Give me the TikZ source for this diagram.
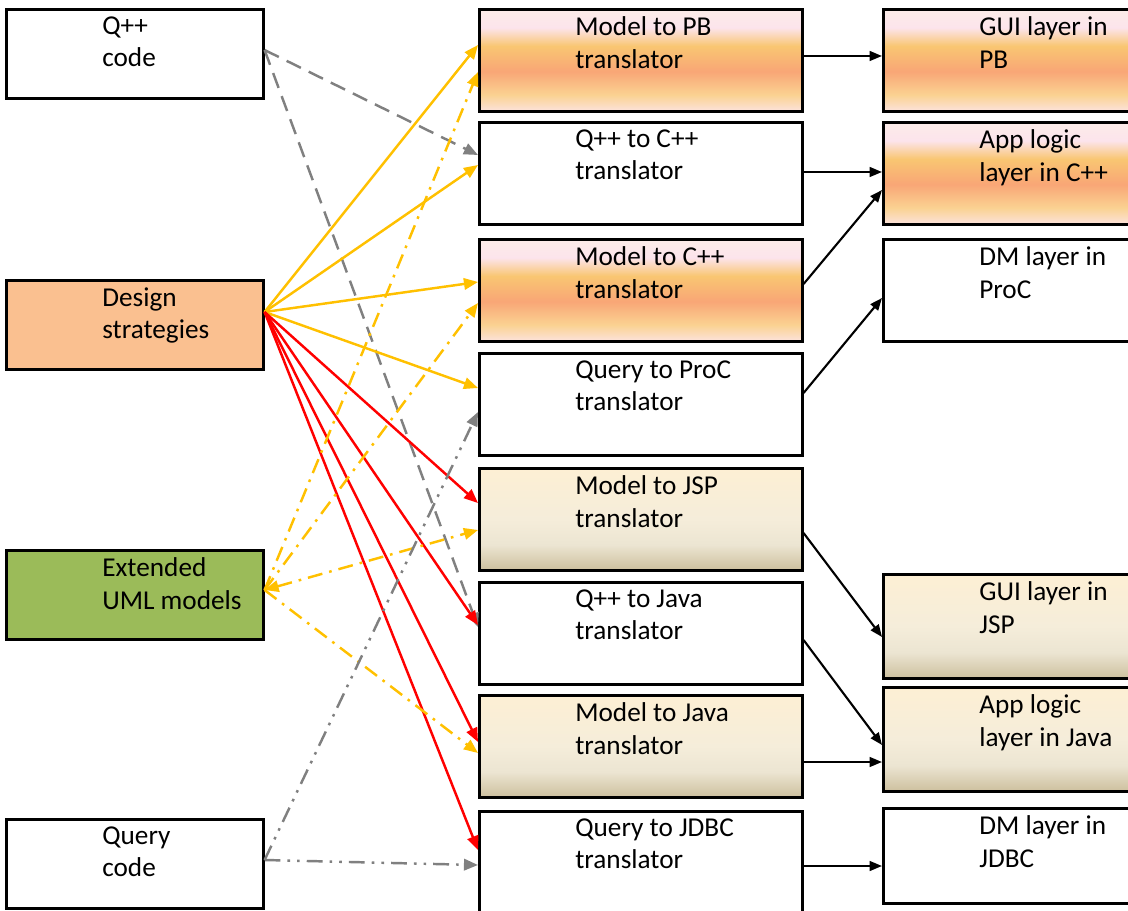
\documentclass[tikz,border=0pt]{standalone}
\usepackage{fontspec}
\setmainfont{Carlito}
\usepackage{tikz}
\usetikzlibrary{arrows.meta}

\definecolor{dsorange}{RGB}{250,192,144}
\definecolor{umlgreen}{RGB}{155,187,89}
\definecolor{linkyellow}{RGB}{255,192,0}
\definecolor{linkred}{RGB}{255,0,0}
\definecolor{linkgray}{RGB}{128,128,128}
\definecolor{suntop}{RGB}{252,236,232}
\definecolor{sunpink}{RGB}{252,228,236}
\definecolor{sungold}{RGB}{249,198,114}
\definecolor{sunsalmon}{RGB}{249,166,118}
\definecolor{sungoldlow}{RGB}{250,210,146}
\definecolor{sunbot}{RGB}{252,226,220}
\definecolor{partop}{RGB}{253,239,212}
\definecolor{parmid}{RGB}{245,237,218}
\definecolor{parlow}{RGB}{236,229,210}
\definecolor{parbot}{RGB}{205,192,158}

\pgfdeclareverticalshading{sunset}{100bp}{color(0bp)=(sunbot); color(25bp)=(sunbot); color(33bp)=(sungoldlow); color(44.5bp)=(sunsalmon); color(57bp)=(sungold); color(66bp)=(sunpink); color(75bp)=(suntop); color(100bp)=(suntop)}
\pgfdeclareverticalshading{parchment}{100bp}{color(0bp)=(parbot); color(25bp)=(parbot); color(37.5bp)=(parlow); color(50bp)=(parmid); color(75bp)=(partop); color(100bp)=(partop)}

\tikzstyle{block} = [draw=black, line width=1.5pt, inner sep=0pt, anchor=north west]
\tikzstyle{srcbox} = [block, minimum width=5.14cm, minimum height=1.78cm]
\tikzstyle{trbox} = [block, minimum width=6.46cm, minimum height=2.04cm]
\tikzstyle{layerbox} = [block, minimum width=5.2cm, minimum height=2.04cm]
\tikzstyle{warm} = [shade, shading=sunset]
\tikzstyle{sand} = [shade, shading=parchment]
\tikzstyle{txt} = [anchor=north west, align=left, inner sep=0pt, xshift=1.94cm, yshift=-0.16cm, font=\fontsize{15.5}{18.7}\selectfont]
\tikzstyle{link} = [line width=1.4pt, ->, >={Triangle[length=8pt,width=6.5pt]}]
\tikzstyle{yline} = [link, draw=linkyellow]
\tikzstyle{rline} = [link, draw=linkred]
\tikzstyle{ydashdot} = [yline, dash pattern=on 8.5pt off 4pt on 1.5pt off 4pt]
\tikzstyle{gdash} = [link, draw=linkgray, dash pattern=on 9pt off 5pt]
\tikzstyle{gdashdotdot} = [link, draw=linkgray, dash pattern=on 9pt off 4pt on 1.5pt off 4pt on 1.5pt off 4pt]
\tikzstyle{blkarrow} = [line width=1.2pt, ->, >={Triangle[length=7pt,width=5.5pt]}]

\begin{document}
\begin{tikzpicture}[x=0.02cm, y=-0.02cm]
    \useasboundingbox (0,0) rectangle (1128,911);

    % sources
    \node (qcode) [srcbox, label={[txt]north west:{Q++\\code}}] at (5,8) {};
    \node (ds) [srcbox, fill=dsorange, label={[txt]north west:{Design\\strategies}}] at (5,279) {};
    \node (uml) [srcbox, fill=umlgreen, label={[txt]north west:{Extended\\UML models}}] at (5,549) {};
    \node (query) [srcbox, label={[txt]north west:{Query\\code}}] at (5,818) {};

    % translators
    \node (mpb) [trbox, warm, label={[txt]north west:{Model to PB\\translator}}] at (478,8) {};
    \node (qcpp) [trbox, label={[txt]north west:{Q++ to C++\\translator}}] at (478,121) {};
    \node (mcpp) [trbox, warm, label={[txt]north west:{Model to C++\\translator}}] at (478,238) {};
    \node (qproc) [trbox, label={[txt]north west:{Query to ProC\\translator}}] at (478,352) {};
    \node (mjsp) [trbox, sand, label={[txt]north west:{Model to JSP\\translator}}] at (478,467) {};
    \node (qjava) [trbox, label={[txt]north west:{Q++ to Java\\translator}}] at (478,581) {};
    \node (mjava) [trbox, sand, label={[txt]north west:{Model to Java\\translator}}] at (478,694) {};
    \node (qjdbc) [trbox, label={[txt]north west:{Query to JDBC\\translator}}] at (478,810) {};

    % layers
    \node (guipb) [layerbox, warm, label={[txt]north west:{GUI layer in\\PB}}] at (882,8) {};
    \node (appcpp) [layerbox, warm, label={[txt]north west:{App logic\\layer in C++}}] at (882,121) {};
    \node (dmproc) [layerbox, label={[txt]north west:{DM layer in\\ProC}}] at (882,238) {};
    \node (guijsp) [layerbox, sand, minimum height=2.08cm, label={[txt]north west:{GUI layer in\\JSP}}] at (882,573) {};
    \node (appjava) [layerbox, sand, minimum height=2.08cm, label={[txt]north west:{App logic\\layer in Java}}] at (882,686) {};
    \node (dmjdbc) [layerbox, minimum height=1.9cm, label={[txt]north west:{DM layer in\\JDBC}}] at (882,807) {};

    \draw [gdash] (qcode.east |- 0,50) -- (qcpp.west |- 0,155);
    \draw [gdash] (qcode.east |- 0,50) -- (qjava.west |- 0,627);

    \draw [yline] (ds.east |- 0,312) -- (mpb.west |- 0,45);
    \draw [yline] (ds.east |- 0,312) -- (qcpp.west |- 0,165);
    \draw [yline] (ds.east |- 0,312) -- (mcpp.west |- 0,282);
    \draw [yline] (ds.east |- 0,312) -- (qproc.west |- 0,388);
    \draw [rline] (ds.east |- 0,312) -- (mjsp.west |- 0,503);
    \draw [rline] (ds.east |- 0,312) -- (qjava.west |- 0,625);
    \draw [rline] (ds.east |- 0,312) -- (mjava.west |- 0,742);
    \draw [rline] (ds.east |- 0,312) -- (qjdbc.west |- 0,850);

    \draw [ydashdot] (uml.east |- 0,590) -- (mpb.west |- 0,72);
    \draw [ydashdot] (uml.east |- 0,590) -- (mcpp.west |- 0,303);
    \draw [ydashdot, <->] (uml.east |- 0,590) -- (mjsp.west |- 0,530);
    \draw [ydashdot] (uml.east |- 0,590) -- (mjava.west |- 0,753);

    \draw [gdashdotdot] (query.east |- 0,860) -- (qproc.west |- 0,412);
    \draw [gdashdotdot] (query.east |- 0,860) -- (qjdbc.west |- 0,865);

    \draw [blkarrow] (mpb.east |- 0,56) -- (guipb.west |- 0,56);
    \draw [blkarrow] (qcpp.east |- 0,172) -- (appcpp.west |- 0,172);
    \draw [blkarrow] (mcpp.east |- 0,284) -- (appcpp.west |- 0,190);
    \draw [blkarrow] (qproc.east |- 0,393) -- (dmproc.west |- 0,298);
    \draw [blkarrow] (mjsp.east |- 0,533) -- (guijsp.west |- 0,637);
    \draw [blkarrow] (qjava.east |- 0,640) -- (appjava.west |- 0,745);
    \draw [blkarrow] (mjava.east |- 0,762) -- (appjava.west |- 0,762);
    \draw [blkarrow] (qjdbc.east |- 0,866) -- (dmjdbc.west |- 0,866);
\end{tikzpicture}
\end{document}
